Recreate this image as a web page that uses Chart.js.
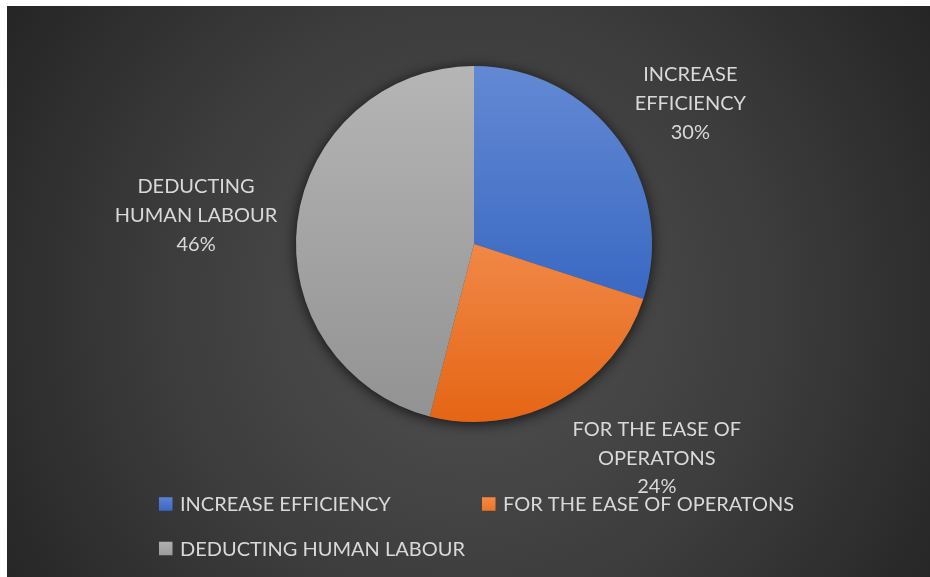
<!DOCTYPE html>
<html>
<head>
<meta charset="utf-8">
<script src="https://cdn.jsdelivr.net/npm/chart.js@4/dist/chart.umd.min.js"></script>
<style>
  html, body { margin: 0; padding: 0; background: #ffffff; }
  #wrap { position: absolute; left: 7px; top: 6px; width: 923px; height: 571px; }
</style>
</head>
<body>
<div id="wrap"><canvas id="c" width="923" height="571"></canvas></div>
<script>
// Reasons given, share of responses (%)
const categories = ['INCREASE EFFICIENCY', 'FOR THE EASE OF OPERATONS', 'DEDUCTING HUMAN LABOUR'];
const labelLines = [['INCREASE', 'EFFICIENCY'], ['FOR THE EASE OF', 'OPERATONS'], ['DEDUCTING', 'HUMAN LABOUR']];
const shares = [30, 24, 46];

// Slice fills: top and bottom colours of a vertical gradient over the pie
const topColors = ['#6389d3', '#fbab7a', '#b5b5b5'];
const bottomColors = ['#2457ba', '#e56514', '#929292'];
const legendTop = ['#5a82d0', '#f58a45', '#b0b0b0'];
const legendBottom = ['#3a68c4', '#ec7426', '#9c9c9c'];

// Small adjustments of the data-label boxes
const labelShift = [[3, 7], [42, -6], [9, 3]];

const FONT = 'Lato, "Open Sans", sans-serif';
const TEXT = '#d9d9d9';

function sliceFill(ctx) {
  const area = ctx.chart.chartArea;
  if (!area) return topColors[ctx.dataIndex];
  const g = ctx.chart.ctx.createLinearGradient(0, area.top, 0, area.bottom);
  g.addColorStop(0, topColors[ctx.dataIndex]);
  g.addColorStop(1, bottomColors[ctx.dataIndex]);
  return g;
}

const backdrop = {
  id: 'backdrop',
  beforeDraw(chart) {
    const { ctx, width, height } = chart;
    ctx.save();
    const g = ctx.createRadialGradient(463, 300, 0, 463, 300, 560);
    g.addColorStop(0, '#525252');
    g.addColorStop(0.55, '#3c3c3c');
    g.addColorStop(1, '#242424');
    ctx.fillStyle = g;
    ctx.fillRect(0, 0, width, height);
    ctx.restore();
  },
  beforeDatasetsDraw(chart) {
    const arc = chart.getDatasetMeta(0).data[0];
    if (!arc) return;
    const ctx = chart.ctx;
    ctx.save();
    ctx.shadowColor = 'rgba(0,0,0,0.75)';
    ctx.shadowBlur = 14;
    ctx.shadowOffsetY = 2;
    ctx.fillStyle = '#444444';
    ctx.beginPath();
    ctx.arc(arc.x, arc.y, arc.outerRadius, 0, Math.PI * 2);
    ctx.fill();
    ctx.restore();
  }
};

const sliceLabels = {
  id: 'sliceLabels',
  afterDatasetsDraw(chart) {
    const ctx = chart.ctx;
    const meta = chart.getDatasetMeta(0);
    const total = shares.reduce((a, b) => a + b, 0);
    ctx.save();
    ctx.font = '20px ' + FONT;
    ctx.fillStyle = TEXT;
    ctx.textAlign = 'center';
    ctx.textBaseline = 'middle';
    const lh = 28.8;
    meta.data.forEach((arc, i) => {
      const lines = labelLines[i].concat([Math.round(shares[i] / total * 100) + '%']);
      const w = Math.max(...lines.map(s => ctx.measureText(s).width));
      const h = lines.length * lh;
      const mid = (arc.startAngle + arc.endAngle) / 2;
      const dx = Math.cos(mid), dy = Math.sin(mid);
      const gap = 30;
      const cx = arc.x + dx * (arc.outerRadius + gap + w / 2) + labelShift[i][0];
      const cy = arc.y + dy * (arc.outerRadius + gap + h / 2) + labelShift[i][1];
      lines.forEach((s, k) => {
        ctx.fillText(s, cx, cy + (k - (lines.length - 1) / 2) * lh);
      });
    });
    ctx.restore();
  }
};

const gridLegend = {
  id: 'gridLegend',
  afterDraw(chart) {
    const ctx = chart.ctx;
    ctx.save();
    ctx.font = '20px ' + FONT;
    ctx.textBaseline = 'middle';
    ctx.textAlign = 'left';
    const cols = [152, 475];
    const rows = [498, 542.5];
    const box = 13.5;
    categories.forEach((name, i) => {
      const x = cols[i % 2];
      const y = rows[Math.floor(i / 2)];
      const g = ctx.createLinearGradient(0, y - box / 2, 0, y + box / 2);
      g.addColorStop(0, legendTop[i]);
      g.addColorStop(1, legendBottom[i]);
      ctx.fillStyle = g;
      ctx.fillRect(x, y - box / 2, box, box);
      ctx.fillStyle = TEXT;
      ctx.fillText(name, x + 21, y + 1);
    });
    ctx.restore();
  }
};

new Chart(document.getElementById('c'), {
  type: 'pie',
  data: {
    labels: categories,
    datasets: [{
      data: shares,
      backgroundColor: sliceFill,
      borderWidth: 0
    }]
  },
  options: {
    responsive: false,
    animation: false,
    events: [],
    layout: { padding: { left: 289, right: 278, top: 60, bottom: 155 } },
    plugins: {
      legend: { display: false },
      tooltip: { enabled: false },
      title: { display: false }
    }
  },
  plugins: [backdrop, sliceLabels, gridLegend]
});
</script>
</body>
</html>
